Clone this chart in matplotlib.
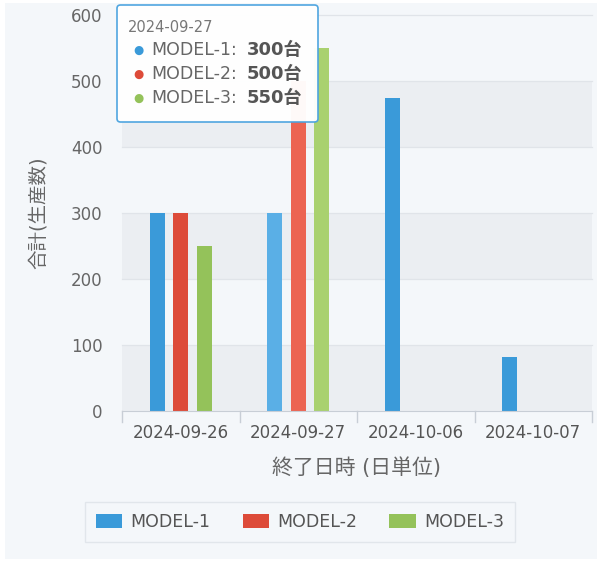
import matplotlib
matplotlib.use("Agg")
import matplotlib.pyplot as plt
from matplotlib.patches import FancyBboxPatch, Patch, Rectangle
import numpy as np

plt.rcParams['font.family'] = ['DejaVu Sans', 'Noto Sans CJK JP']

dates = ["2024-09-26", "2024-09-27", "2024-10-06", "2024-10-07"]
series = ["MODEL-1", "MODEL-2", "MODEL-3"]
model1 = [300, 300, 475, 82]
model2 = [300, 500, 0, 0]
model3 = [250, 550, 0, 0]
colors = ["#3a9ad9", "#dd4b39", "#94c25a"]
hover_colors = ["#5aafe6", "#ec6452", "#a9d16f"]
hover_idx = 1
tooltip_title = "2024-09-27"

bg = "#f4f7fa"
band = "#ebeef2"

fig = plt.figure(figsize=(6, 5.61), dpi=100, facecolor="white")
# panel background with thin white margin
fig.patches.append(Rectangle((5 / 600, 2 / 561), 592 / 600, 556 / 561,
                             transform=fig.transFigure, facecolor=bg, edgecolor="none", zorder=-1))

ax = fig.add_axes([122 / 600, 1 - 411 / 561, 470 / 600, 396 / 561])
ax.set_facecolor(bg)

# alternating horizontal bands
for lo in (0, 200, 400):
    ax.axhspan(lo, lo + 100, color=band, zorder=0, lw=0)
for y in range(100, 700, 100):
    ax.axhline(y, color="#e0e4e9", lw=0.9, zorder=0.5, clip_on=False)

x = np.arange(len(dates))
offsets = [-0.2, 0.0, 0.2]
width = 0.125
for i, vals in enumerate([model1, model2, model3]):
    cols = [hover_colors[i] if j == hover_idx else colors[i] for j in range(len(dates))]
    ax.bar(x + offsets[i], vals, width, color=cols, zorder=2)

ax.set_xlim(-0.5, len(dates) - 0.5)
ax.set_ylim(0, 600)
ax.set_yticks(range(0, 700, 100))
ax.set_xticks(x)
ax.set_xticklabels(dates)
ax.tick_params(axis="y", length=0, pad=14, labelsize=12, labelcolor="#666666")
ax.tick_params(axis="x", length=0, pad=9, labelsize=12, labelcolor="#555555")
for s in ("top", "right", "left"):
    ax.spines[s].set_visible(False)
ax.spines["bottom"].set_color("#c8ced6")
# category boundary ticks
for b in np.arange(-0.5, len(dates), 1.0):
    ax.plot([b, b], [0, -16], color="#c8ced6", lw=1, clip_on=False, zorder=1)

ax.set_xlabel("終了日時 (日単位)", fontsize=15, color="#666666", labelpad=11)
ax.set_ylabel("合計(生産数)", fontsize=14, color="#666666")
ax.yaxis.set_label_coords(-0.157, 0.5)

handles = [Patch(facecolor=c, edgecolor="none") for c in colors]
leg = fig.legend(handles, series, loc="center", bbox_to_anchor=(300 / 600, 1 - 522 / 561),
                 ncol=3, frameon=True, fontsize=12.5, handlelength=1.5, handleheight=0.85,
                 columnspacing=1.85, handletextpad=0.5, borderpad=0.65, fancybox=False)
leg.get_frame().set_edgecolor("#dde2e8")
leg.get_frame().set_facecolor(bg)
for t in leg.get_texts():
    t.set_color("#555555")

# tooltip
box = FancyBboxPatch((117 / 600, 1 - 122 / 561), 201 / 600, 117 / 561,
                     boxstyle="round,pad=0,rounding_size=0.006",
                     transform=fig.transFigure, facecolor="white", edgecolor="#4aa3df",
                     lw=1.2, zorder=10, alpha=0.97)
fig.patches.append(box)
fig.text(128 / 600, 1 - 27 / 561, tooltip_title, fontsize=10.5, color="#777777",
         va="center", zorder=11)
tip_vals = [model1[hover_idx], model2[hover_idx], model3[hover_idx]]
for k, (name, v) in enumerate(zip(series, tip_vals)):
    yy = 1 - (50 + 24 * k) / 561
    fig.text(138 / 600, yy, "●", fontsize=8.5, color=colors[k], va="center", ha="center", zorder=11)
    fig.text(151 / 600, yy, name + ":", fontsize=12.5, color="#666666", va="center", zorder=11)
    fig.text(247 / 600, yy, f"{v}台", fontsize=13, color="#555555", fontweight="bold",
             va="center", zorder=11)

fig.savefig("out.png", dpi=100, facecolor="white")
